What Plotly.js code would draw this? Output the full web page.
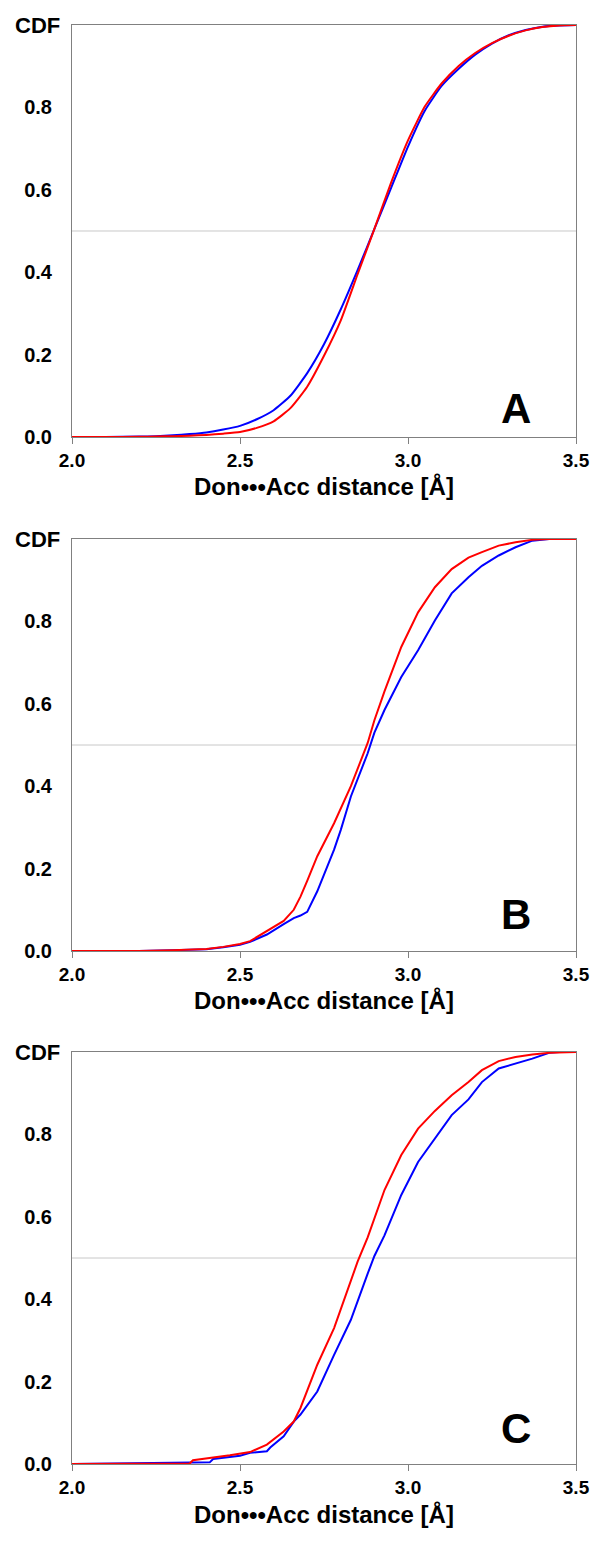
<!DOCTYPE html>
<html>
<head>
<meta charset="utf-8">
<script src="https://cdn.plot.ly/plotly-3.0.1.min.js"></script>
<style>html,body{margin:0;padding:0;background:#fff;}</style>
</head>
<body>
<div id="chart" style="width:595px;height:1541px;"></div>
<script>
// ---- Panel A ----
const distA = [2.0, 2.1, 2.2, 2.25, 2.3, 2.35, 2.4, 2.45, 2.5, 2.55, 2.6, 2.65, 2.7, 2.75, 2.8, 2.85, 2.9, 2.95, 3.0, 3.05, 3.1, 3.15, 3.2, 3.25, 3.3, 3.35, 3.4, 3.45, 3.5];
const blueA = [0, 0, 0.001, 0.002, 0.004, 0.007, 0.011, 0.018, 0.027, 0.043, 0.065, 0.100, 0.155, 0.225, 0.310, 0.405, 0.505, 0.605, 0.705, 0.792, 0.852, 0.893, 0.928, 0.955, 0.975, 0.988, 0.996, 0.999, 1.0];
const redA  = [0, 0, 0.0005, 0.001, 0.002, 0.003, 0.005, 0.008, 0.012, 0.022, 0.038, 0.070, 0.122, 0.197, 0.283, 0.395, 0.505, 0.618, 0.720, 0.802, 0.858, 0.900, 0.932, 0.956, 0.974, 0.987, 0.995, 0.999, 1.0];

// ---- Panel B ----
const distB = [2.0, 2.2, 2.3, 2.4, 2.45, 2.5, 2.53, 2.58, 2.63, 2.66, 2.68, 2.70, 2.73, 2.78, 2.80, 2.83, 2.88, 2.90, 2.93, 2.98, 3.03, 3.08, 3.13, 3.18, 3.22, 3.27, 3.32, 3.37, 3.42, 3.5];
const blueB = [0, 0, 0.002, 0.004, 0.009, 0.015, 0.022, 0.040, 0.065, 0.080, 0.086, 0.095, 0.145, 0.246, 0.294, 0.375, 0.480, 0.530, 0.585, 0.665, 0.730, 0.802, 0.868, 0.907, 0.935, 0.960, 0.980, 0.996, 1.0, 1.0];
const redB  = [0, 0, 0.002, 0.005, 0.010, 0.017, 0.024, 0.048, 0.073, 0.100, 0.132, 0.170, 0.230, 0.310, 0.345, 0.400, 0.505, 0.560, 0.630, 0.738, 0.822, 0.883, 0.927, 0.955, 0.968, 0.984, 0.992, 0.998, 1.0, 1.0];

// ---- Panel C ----
const distBlueC = [2.0, 2.2, 2.3, 2.41, 2.42, 2.5, 2.53, 2.58, 2.59, 2.63, 2.66, 2.68, 2.73, 2.78, 2.83, 2.88, 2.90, 2.93, 2.98, 3.03, 3.08, 3.13, 3.18, 3.22, 3.27, 3.32, 3.37, 3.42, 3.45, 3.5];
const blueC = [0, 0.001, 0.003, 0.004, 0.012, 0.020, 0.027, 0.031, 0.040, 0.067, 0.103, 0.120, 0.176, 0.265, 0.350, 0.462, 0.505, 0.555, 0.653, 0.733, 0.790, 0.847, 0.885, 0.927, 0.960, 0.972, 0.984, 0.998, 1.0, 1.0];
const distRedC = [2.0, 2.2, 2.35, 2.36, 2.42, 2.47, 2.53, 2.58, 2.63, 2.66, 2.68, 2.73, 2.78, 2.83, 2.85, 2.88, 2.93, 2.98, 3.03, 3.08, 3.13, 3.18, 3.22, 3.27, 3.32, 3.37, 3.42, 3.5];
const redC  = [0, 0, 0.001, 0.009, 0.015, 0.021, 0.029, 0.047, 0.079, 0.103, 0.136, 0.241, 0.330, 0.443, 0.491, 0.550, 0.665, 0.750, 0.814, 0.857, 0.895, 0.927, 0.956, 0.978, 0.988, 0.994, 0.998, 1.0];

const yTickVals = [0, 0.2, 0.4, 0.6, 0.8, 1.0];
const yTickText = ['0.0', '0.2', '0.4', '0.6', '0.8', ''];
const xTickVals = [2.0, 2.5, 3.0, 3.5];
const xTickText = ['2.0', '2.5', '3.0', '3.5'];
const panelLabels = ['A', 'B', 'C'];
const xTitle = 'Don\u2022\u2022\u2022Acc distance [\u00C5]';
const yTitle = 'CDF';
const refLevel = 0.5;

const FONT = 'Liberation Sans, Arial, Helvetica, sans-serif';
const BLUE = '#0000ff', RED = '#ff0000', AXIS = '#808080';

function tr(x, y, color, n, shape) {
  return {
    x: x, y: y, type: 'scatter', mode: 'lines',
    xaxis: n === 1 ? 'x' : 'x' + n, yaxis: n === 1 ? 'y' : 'y' + n,
    line: {color: color, width: 2, shape: shape || 'linear', smoothing: 0.5},
    hoverinfo: 'skip'
  };
}

const data = [
  tr(distA, blueA, BLUE, 1, 'spline'), tr(distA, redA, RED, 1, 'spline'),
  tr(distB, blueB, BLUE, 2), tr(distB, redB, RED, 2),
  tr(distBlueC, blueC, BLUE, 3), tr(distRedC, redC, RED, 3)
];

function xa(n) {
  return {
    anchor: n === 1 ? 'y' : 'y' + n, domain: [0, 1], range: [2.0, 3.5],
    tickvals: xTickVals, ticktext: xTickText,
    ticks: 'outside', ticklen: 6, tickcolor: AXIS, tickwidth: 1,
    showline: true, linecolor: AXIS, linewidth: 1, mirror: true,
    showgrid: false, zeroline: false,
    tickfont: {family: FONT, size: 19, color: '#000', weight: 'bold'}
  };
}
// labelled y axis: long transparent ticks push the labels away from the axis
function ya(n, dom) {
  return {
    anchor: n === 1 ? 'x' : 'x' + n, domain: dom, range: [0, 1],
    tickvals: yTickVals, ticktext: yTickText,
    ticks: 'outside', ticklen: 15, tickcolor: 'rgba(0,0,0,0)', tickwidth: 1,
    showline: true, linecolor: AXIS, linewidth: 1, mirror: true,
    showgrid: false, zeroline: false,
    tickfont: {family: FONT, size: 20, color: '#000', weight: 'bold'}
  };
}
// overlay y axis that only draws the short visible tick marks
function yTicks(n) {
  return {
    overlaying: n === 1 ? 'y' : 'y' + n, anchor: n === 1 ? 'x' : 'x' + n,
    side: 'left', range: [0, 1], tickvals: yTickVals,
    ticks: 'outside', ticklen: 6, tickcolor: AXIS, tickwidth: 1,
    showticklabels: false, showline: false, showgrid: false, zeroline: false
  };
}

const shapes = [], annotations = [];
const letterY = [0.07, 0.088, 0.086];
for (let i = 1; i <= 3; i++) {
  const xr = i === 1 ? 'x' : 'x' + i, yr = i === 1 ? 'y' : 'y' + i;
  shapes.push({type: 'line', xref: xr, yref: yr, x0: 2.0, x1: 3.5, y0: refLevel, y1: refLevel,
    line: {color: '#c8c8c8', width: 1}, layer: 'below'});
  annotations.push({xref: xr + ' domain', yref: yr + ' domain', x: 0.5, y: 0, yshift: -50,
    xanchor: 'center', yanchor: 'middle', showarrow: false, text: xTitle,
    font: {family: FONT, size: 24, color: '#000', weight: 'bold'}});
  annotations.push({xref: xr + ' domain', yref: yr + ' domain', x: 0, y: 1, xshift: -10,
    xanchor: 'right', yanchor: 'middle', showarrow: false, text: yTitle,
    font: {family: FONT, size: 22, color: '#000', weight: 'bold'}});
  annotations.push({xref: xr, yref: yr, x: 3.321, y: letterY[i - 1],
    xanchor: 'center', yanchor: 'middle', showarrow: false, text: panelLabels[i - 1],
    font: {family: FONT, size: 42, color: '#000', weight: 'bold'}});
}

const layout = {
  width: 595, height: 1541,
  margin: {l: 72, r: 19, t: 25, b: 77, pad: 0},
  paper_bgcolor: '#fff', plot_bgcolor: '#fff',
  showlegend: false,
  font: {family: FONT, color: '#000'},
  xaxis: xa(1), yaxis: ya(1, [0.7137, 1]),
  xaxis2: xa(2), yaxis2: ya(2, [0.3565, 0.6428]),
  xaxis3: xa(3), yaxis3: ya(3, [0, 0.2863]),
  yaxis4: yTicks(1), yaxis5: yTicks(2), yaxis6: yTicks(3),
  shapes: shapes, annotations: annotations
};

Plotly.newPlot('chart', data, layout, {staticPlot: true, displayModeBar: false});
</script>
</body>
</html>
